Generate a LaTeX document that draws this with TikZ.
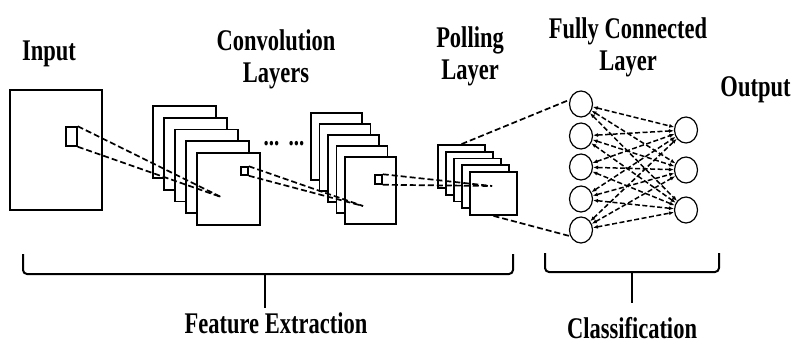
\documentclass[tikz,border=0pt]{standalone}
\usepackage{fontspec}
\newfontfamily\lblfont[FakeStretch=0.75]{Liberation Serif}
\usepackage{tikz}
\usetikzlibrary{arrows.meta,shapes.geometric}

\tikzset{
  frame/.style={draw, line width=1.8pt, fill=white, inner sep=0pt},
  win/.style={draw, line width=1.5pt, fill=white, inner sep=0pt},
  neuron/.style={draw, ellipse, line width=1.2pt, fill=white, minimum width=23, minimum height=26, inner sep=0pt},
  link/.style={line width=1.7pt, dash pattern={on 6pt off 3pt}},
  fclink/.style={line width=1.5pt, dash pattern={on 5pt off 2.5pt}, {Latex[length=5pt,width=4pt]}-{Latex[length=5pt,width=4pt]}},
  brace/.style={line width=2pt, rounded corners=4pt},
  lbl/.style={font=\lblfont\bfseries\fontsize{30}{32}\selectfont, inner sep=0pt, align=center}
}

\begin{document}
\begin{tikzpicture}[x=1pt,y=-1pt]
    \useasboundingbox (0,0) rectangle (794,350);

    %Input image
    \node[frame, minimum width=92, minimum height=120] (input) at (56,150) {};
    \node[win, minimum width=11, minimum height=19] (in-win) at (71.5,136.5) {};

    %Convolution layers (first stack)
    \foreach \k in {0,...,4}
        \node[frame, minimum width=63, minimum height=72] (ca\k) at ({184.5+11*\k},{142+11.75*\k}) {};
    \node[win, minimum width=7, minimum height=8] (ca-win) at (244.5,171) {};

    %Convolution layers (second stack)
    \foreach \k in {0,...,4}
        \node[frame, minimum width=51, minimum height=67] (cb\k) at ({336.5+8.5*\k},{146.5+11*\k}) {};
    \node[win, minimum width=7, minimum height=9] (cb-win) at (378.5,179.5) {};

    %Polling layer
    \foreach \k in {0,...,4}
        \node[frame, minimum width=47, minimum height=43] (pl\k) at ({461.5+8*\k},{166.5+6.75*\k}) {};

    \node[font=\lblfont\bfseries\fontsize{28}{30}\selectfont, inner sep=0pt, anchor=base] (dots) at (284,145) {...\,\,...};

    %hit points of the receptive fields
    \coordinate (ca-hit) at (221,197);
    \coordinate (cb-hit) at (363,206);
    \coordinate (pl-hit) at (492,186);

    \draw[link] (in-win.north east) -- (ca-hit);
    \draw[link] (in-win.south east) -- (ca-hit);
    \draw[link] (ca-win.north east) -- (cb-hit);
    \draw[link] (ca-win.south east) -- (cb-hit);
    \draw[link] (cb-win.north east) -- (pl-hit);
    \draw[link] (cb-win.south east) -- (pl-hit);

    %Fully connected layer
    \foreach \i/\yy in {1/104,2/136,3/167,4/199,5/230}
        \node[neuron] (h\i) at (581,\yy) {};
    \foreach \j/\yy in {1/130,2/170,3/210}
        \node[neuron] (o\j) at (686,\yy) {};

    \foreach \i in {1,...,5}
        \foreach \j in {1,2,3}
            \draw[fclink] (h\i) -- (o\j);

    \draw[link] (pl0.north) -- (h1.160);
    \draw[link] (pl4.south) -- (h5.210);

    %Braces
    \coordinate (fe-l) at (23,254);
    \coordinate (fe-m) at (265,274);
    \coordinate (fe-r) at (513,254);
    \coordinate (fe-tip) at (265,308);
    \draw[brace] (fe-l) |- (fe-m) -| (fe-r);
    \draw[brace] (fe-m) -- (fe-tip);

    \coordinate (cl-l) at (545,253);
    \coordinate (cl-m) at (632,272);
    \coordinate (cl-r) at (719,253);
    \coordinate (cl-tip) at (632,303);
    \draw[brace] (cl-l) |- (cl-m) -| (cl-r);
    \draw[brace] (cl-m) -- (cl-tip);

    % Text Node
    \node[lbl, anchor=base] (t-input) at (49,61) {Input};
    % Text Node
    \node[lbl, anchor=north] (t-conv) at (276,29) {Convolution\\Layers};
    % Text Node
    \node[lbl, anchor=north] (t-pool) at (470,26) {Polling\\Layer};
    % Text Node
    \node[lbl, anchor=north] (t-fc) at (628,17) {Fully Connected\\Layer};
    % Text Node
    \node[lbl, anchor=base] (t-out) at (755.5,97) {Output};
    % Text Node
    \node[lbl, anchor=base] (t-fe) at (276,333) {Feature Extraction};
    % Text Node
    \node[lbl, anchor=base] (t-cl) at (632,338) {Classification};

\end{tikzpicture}
\end{document}
